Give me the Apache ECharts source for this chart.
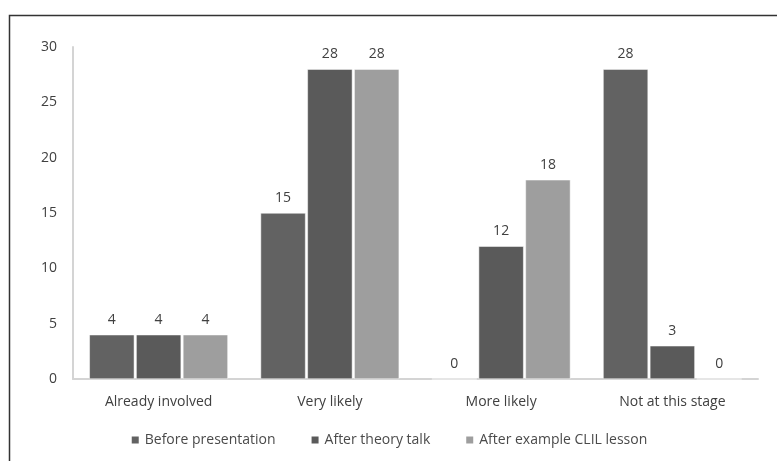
<!DOCTYPE html>
<html><head><meta charset="utf-8">
<script src="https://cdn.jsdelivr.net/npm/echarts@6/dist/echarts.min.js"></script>
<style>html,body{margin:0;padding:0;background:#fff}#c{width:777px;height:461px}</style>
</head><body><div id="c"></div>
<script>
const categories = ['Already involved', 'Very likely', 'More likely', 'Not at this stage'];
const seriesNames = ['Before presentation', 'After theory talk', 'After example CLIL lesson'];
const beforePresentation = [4, 15, 0, 28];
const afterTheoryTalk = [4, 28, 12, 3];
const afterExampleLesson = [4, 28, 18, 0];
const yTicks = [0, 5, 10, 15, 20, 25, 30];

const colors = ['#626262', '#5a5a5a', '#9e9e9e'];
const font = 'Open Sans';
const chart = echarts.init(document.getElementById('c'));
const mk = (name, data, color) => ({
  name, type: 'bar', data, barWidth: 45, barGap: '4%',
  itemStyle: { color, borderColor: '#ffffff', borderWidth: 0.5 },
  label: { show: true, position: 'top', distance: 8, color: '#404040', fontSize: 14, fontFamily: font },
  emphasis: { disabled: true }
});
chart.setOption({
  animation: false,
  textStyle: { fontFamily: font },
  graphic: [{ type: 'rect', shape: { x: 9.5, y: 15.5, width: 800, height: 500 }, style: { fill: 'none', stroke: '#333', lineWidth: 1.5 } }],
  grid: { left: 73, right: 19, top: 47, bottom: 82 },
  legend: {
    bottom: 9, left: 'center', itemWidth: 9, itemHeight: 9, itemGap: 34,
    icon: 'rect', textStyle: { color: '#4a4a4a', fontSize: 14, fontFamily: font },
    data: seriesNames
  },
  xAxis: {
    type: 'category', data: categories,
    axisLine: { lineStyle: { color: '#d4d4d4', width: 2 } },
    axisTick: { show: false },
    axisLabel: { color: '#404040', fontSize: 14, margin: 16, fontFamily: font }
  },
  yAxis: {
    type: 'value', min: yTicks[0], max: yTicks[yTicks.length - 1], interval: 5,
    axisLine: { show: true, lineStyle: { color: '#d4d4d4', width: 2 } },
    axisTick: { show: false },
    splitLine: { show: false },
    axisLabel: { color: '#404040', fontSize: 14, margin: 16, fontFamily: font }
  },
  series: [
    mk(seriesNames[0], beforePresentation, colors[0]),
    mk(seriesNames[1], afterTheoryTalk, colors[1]),
    mk(seriesNames[2], afterExampleLesson, colors[2])
  ]
});
</script></body></html>
